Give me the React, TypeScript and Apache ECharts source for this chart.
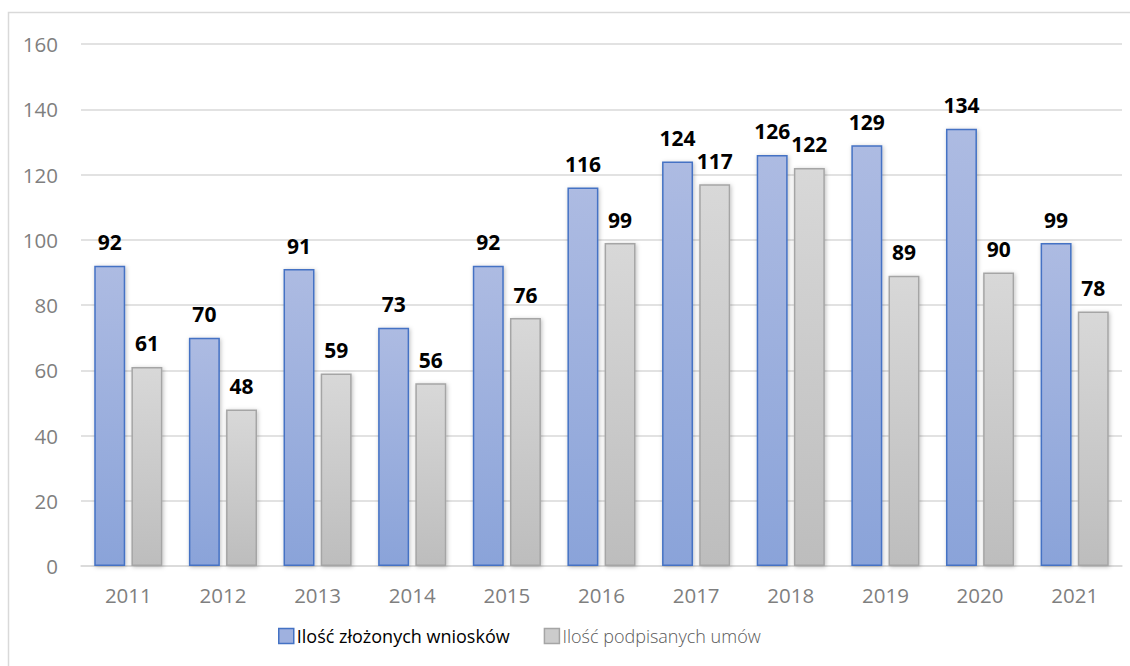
import React, { useEffect, useRef } from "react";
import * as echarts from "echarts";

const years = ["2011", "2012", "2013", "2014", "2015", "2016", "2017", "2018", "2019", "2020", "2021"];
const wnioski = [92, 70, 91, 73, 92, 116, 124, 126, 129, 134, 99];
const umowy = [61, 48, 59, 56, 76, 99, 117, 122, 89, 90, 78];
const seriesNames = ["Ilość złożonych wniosków", "Ilość podpisanych umów"];

const FONT = "'Open Sans', 'Noto Sans', sans-serif";

export default function App() {
  const ref = useRef<HTMLDivElement>(null);
  useEffect(() => {
    if (!ref.current) return;
    const chart = echarts.init(ref.current, undefined, { renderer: "svg" });
    const blue = new echarts.graphic.LinearGradient(0, 0, 0, 1, [
      { offset: 0, color: "#adbbe2" },
      { offset: 1, color: "#8aa3d9" },
    ]);
    const gray = new echarts.graphic.LinearGradient(0, 0, 0, 1, [
      { offset: 0, color: "#d8d8d8" },
      { offset: 1, color: "#bdbdbd" },
    ]);
    const label = {
      show: true,
      position: "top" as const,
      distance: 13,
      color: "#000",
      fontWeight: "bold" as const,
      fontSize: 21,
      fontFamily: FONT,
    };
    chart.setOption({
      animation: false,
      backgroundColor: "#fff",
      textStyle: { fontFamily: FONT },
      graphic: [
        {
          type: "rect",
          shape: { x: 8.5, y: 12.5, width: 1200, height: 800 },
          style: { fill: "none", stroke: "#d9d9d9", lineWidth: 1.5 },
          silent: true,
          z: -10,
        },
      ],
      grid: { left: 81, right: 8, top: 44, bottom: 100, containLabel: false },
      legend: {
        left: 273,
        top: 622,
        itemWidth: 15,
        itemHeight: 15,
        itemGap: 34,
        icon: "rect",
        textStyle: { fontSize: 18, fontFamily: FONT, color: "#000", padding: [0, 0, 0, -2] },
        data: [
          { name: seriesNames[0], itemStyle: { color: "#9fb1df", borderColor: "#4472c4", borderWidth: 1.5 } },
          {
            name: seriesNames[1],
            itemStyle: { color: "#cccccc", borderColor: "#a5a5a5", borderWidth: 1.5 },
            textStyle: { color: "#595959", fontWeight: 300 },
          },
        ],
      },
      xAxis: {
        type: "category",
        data: years,
        axisLine: { lineStyle: { color: "#d9d9d9", width: 1.5 } },
        axisTick: { show: false },
        axisLabel: { color: "#7f7f7f", fontSize: 20.5, fontFamily: FONT, margin: 18 },
      },
      yAxis: {
        type: "value",
        min: 0,
        max: 160,
        interval: 20,
        axisLine: { show: false },
        axisTick: { show: false },
        splitLine: { lineStyle: { color: "#d9d9d9", width: 1.5 } },
        axisLabel: { color: "#7f7f7f", fontSize: 20.5, fontFamily: FONT, margin: 23 },
      },
      series: [
        {
          name: seriesNames[0],
          type: "bar",
          data: wnioski,
          barGap: "20%",
          barCategoryGap: "28%",
          itemStyle: {
            color: blue,
            borderColor: "#4472c4",
            borderWidth: 1.5,
            shadowBlur: 4,
            shadowColor: "rgba(0,0,0,0.25)",
            shadowOffsetX: 1,
            shadowOffsetY: 1,
          },
          label,
        },
        {
          name: seriesNames[1],
          type: "bar",
          data: umowy,
          itemStyle: {
            color: gray,
            borderColor: "#a5a5a5",
            borderWidth: 1.5,
            shadowBlur: 4,
            shadowColor: "rgba(0,0,0,0.25)",
            shadowOffsetX: 1,
            shadowOffsetY: 1,
          },
          label,
        },
      ],
    });
    return () => chart.dispose();
  }, []);
  return (
    <div
      ref={ref}
      style={{ position: "absolute", left: 0, top: 0, width: 1130, height: 666 }}
    />
  );
}
